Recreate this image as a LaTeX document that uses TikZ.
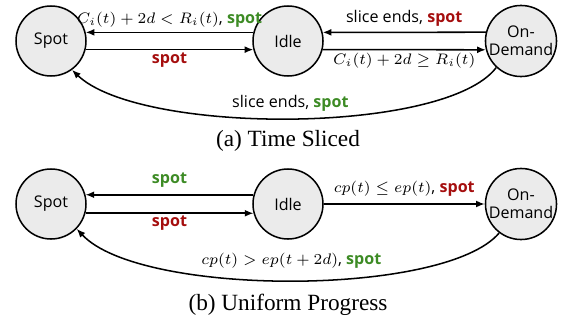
\documentclass[tikz,border=0pt]{standalone}
\usepackage{fontspec}
\setmainfont{Liberation Serif}
\setsansfont{Open Sans}
\usetikzlibrary{arrows.meta}
\definecolor{spotgreen}{HTML}{3D8B25}
\definecolor{spotred}{HTML}{A50E0E}
\newcommand{\spotg}{\textbf{\color{spotgreen}spot}}
\newcommand{\spotr}{\textbf{\color{spotred}spot}}

\begin{document}
\begin{tikzpicture}[x=0.46pt,y=-0.46pt,
 state/.style={circle,draw,line width=0.7pt,fill=black!8,minimum size=32.2pt,inner sep=0pt,align=center,font=\sffamily\fontsize{7.4}{8.4}\selectfont},
 trans/.style={line width=0.7pt,-{Latex[length=4pt,width=3.2pt]}},
 lbl/.style={inner sep=1pt,font=\sffamily\fontsize{7.4}{8.4}\selectfont},
 capt/.style={font=\fontsize{10.7}{12}\selectfont}]
 \useasboundingbox (0,0) rectangle (561,327);
 % (a) time sliced
 \node[state] (spotA) at (51,41) {Spot};
 \node[state] (idleA) at (288,41) {Idle};
 \node[state] (odA) at (521,41) {On-\\Demand};
 \draw[trans] (idleA.166) -- node[lbl,above=1pt] {$C_i(t)+2d<R_i(t)$, \spotg} (spotA.14);
 \draw[trans] (spotA.-14) -- node[lbl,below] {\spotr} (idleA.194);
 \draw[trans] (odA.166) -- node[lbl,above=1.5pt] {slice ends, \spotr} (idleA.14);
 \draw[trans] (idleA.-14) -- node[lbl,below] {$C_i(t)+2d\geq R_i(t)$} (odA.194);
 \draw[trans] (odA.227) .. controls (445,135) and (140,135) .. node[lbl,above=2pt] {slice ends, \spotg} (spotA.306);
 \node[capt] (captA) at (288,141) {(a) Time Sliced};
 % (b) uniform progress
 \node[state] (spotB) at (51,204) {Spot};
 \node[state] (idleB) at (288,204) {Idle};
 \node[state] (odB) at (521,204) {On-\\Demand};
 \draw[trans] (idleB.165) -- node[lbl,above=2pt] {\spotg} (spotB.15);
 \draw[trans] (spotB.-15) -- node[lbl,below] {\spotr} (idleB.195);
 \draw[trans] (idleB) -- node[lbl,above=2pt] {$cp(t)\leq ep(t)$, \spotr} (odB);
 \draw[trans] (odB.233) .. controls (445,297) and (140,297) .. node[lbl,above=4pt] {$cp(t)>ep(t+2d)$, \spotg} (spotB.316);
 \node[capt] (captB) at (288,305) {(b) Uniform Progress};
\end{tikzpicture}
\end{document}
